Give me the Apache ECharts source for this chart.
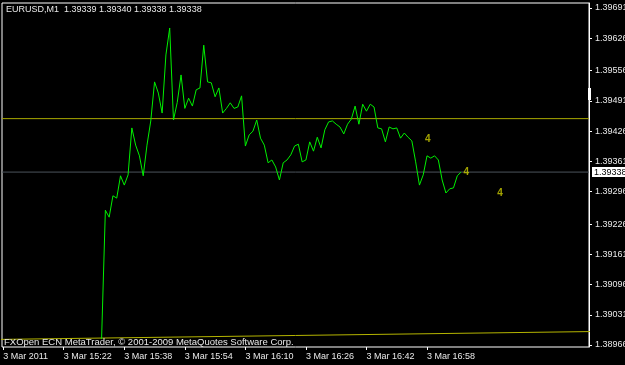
<!DOCTYPE html>
<html>
<head>
<meta charset="utf-8">
<script src="https://cdn.jsdelivr.net/npm/echarts@6/dist/echarts.min.js"></script>
<style>
html, body { margin: 0; background: #000; }
#chart { width: 625px; height: 365px; }
</style>
</head>
<body>
<div id="chart"></div>
<script>
// minutes are counted from 15:06, the first label on the time scale
const firstMinute = 26 // 15:32
const closes = [
    1.38979, 1.39256, 1.39241, 1.39287, 1.39282, 1.39330, 1.39310, 1.39332, 1.39433, 1.39396,
    1.39373, 1.39330, 1.39396, 1.39448, 1.39532, 1.39508, 1.39465, 1.39590, 1.39648, 1.39450,
    1.39488, 1.39547, 1.39475, 1.39497, 1.39480, 1.39515, 1.39519, 1.39611, 1.39532, 1.39530,
    1.39500, 1.39519, 1.39465, 1.39475, 1.39487, 1.39475, 1.39478, 1.39502, 1.39394, 1.39418,
    1.39426, 1.39450, 1.39411, 1.39396, 1.39358, 1.39364, 1.39349, 1.39321, 1.39358, 1.39364,
    1.39375, 1.39394, 1.39398, 1.39360, 1.39364, 1.39403, 1.39383, 1.39413, 1.39390, 1.39429,
    1.39446, 1.39448, 1.39441, 1.39435, 1.39420, 1.39441, 1.39452, 1.39480, 1.39441, 1.39484,
    1.39469, 1.39484, 1.39478, 1.39433, 1.39431, 1.39403, 1.39435, 1.39431, 1.39433, 1.39411,
    1.39422, 1.39413, 1.39405, 1.39360, 1.39310, 1.39332, 1.39373, 1.39368, 1.39373, 1.39364,
    1.39321, 1.39293, 1.39302, 1.39304, 1.39330, 1.39338,
]
const lastPrice = 1.39338
const levelPrice = 1.39453
const trendMinutes = [-1, 156]
const trendPrices = [1.38978, 1.38995]
const markMinutes = [112.2, 122.4, 131.3]
const markPrices = [1.39409, 1.39337, 1.39292]
const priceTicks = [1.38966, 1.39031, 1.39096, 1.39161, 1.39226, 1.39296, 1.39361, 1.39426, 1.39491, 1.39556, 1.39626, 1.39691]
const timeTicks = [0, 16, 32, 48, 64, 80, 96, 112]
const timeLabels = ["3 Mar 2011", "3 Mar 15:22", "3 Mar 15:38", "3 Mar 15:54", "3 Mar 16:10", "3 Mar 16:26", "3 Mar 16:42", "3 Mar 16:58"]

const font = "Liberation Sans"
const textColor = "#e8e8e8"
const xMin = -0.317
const xMax = 154.81

let chart = echarts.init(document.getElementById("chart"))
chart.setOption({
    animation: false,
    backgroundColor: "#000",
    textStyle: { fontFamily: font },
    title: {
        text: "EURUSD,M1  1.39339 1.39340 1.39338 1.39338",
        left: 6,
        top: 5,
        padding: 0,
        textStyle: { color: textColor, fontSize: 9, fontWeight: "normal", fontFamily: font },
    },
    graphic: [
        { type: "text", left: 4, top: 337, style: { text: "FXOpen ECN MetaTrader, © 2001-2009 MetaQuotes Software Corp.", fill: textColor, font: "9.5px " + font }, z: 10 },
        { type: "rect", shape: { x: 588, y: 88, width: 3, height: 12 }, style: { fill: "#fff" }, z: 10 },
    ],
    grid: {
        show: true,
        left: 2,
        top: 3,
        right: 36,
        bottom: 18,
        outerBoundsMode: "none",
        containLabel: false,
        borderColor: "#fff",
        borderWidth: 1,
    },
    xAxis: {
        type: "value",
        min: xMin,
        max: xMax,
        splitLine: { show: false },
        axisLine: { show: false, onZero: false },
        axisTick: { customValues: timeTicks, length: 3, lineStyle: { color: "#fff" } },
        axisLabel: {
            customValues: timeTicks,
            align: "left",
            margin: 5,
            color: textColor,
            fontSize: 9,
            formatter: v => timeLabels[timeTicks.indexOf(v)],
        },
    },
    yAxis: {
        type: "value",
        position: "right",
        min: 1.389617,
        max: 1.3970175,
        splitLine: { show: false },
        axisLine: { show: true, onZero: false, lineStyle: { color: "#fff" } },
        axisTick: { customValues: priceTicks, length: 3, lineStyle: { color: "#fff" } },
        axisLabel: {
            customValues: priceTicks,
            margin: 6,
            color: textColor,
            fontSize: 9,
            formatter: v => v.toFixed(5),
        },
    },
    series: [
        {
            // trend line near the bottom
            type: "line",
            data: trendMinutes.map((m, i) => [m, trendPrices[i]]),
            symbol: "none",
            lineStyle: { color: "#b4b400", width: 1 },
            silent: true,
        },
        {
            // horizontal level
            type: "line",
            data: [[xMin, levelPrice], [xMax, levelPrice]],
            symbol: "none",
            lineStyle: { color: "#a8a800", width: 1 },
            silent: true,
        },
        {
            // current price line with its tag on the scale
            type: "line",
            data: [[xMin, lastPrice], [xMax, lastPrice]],
            symbol: "none",
            lineStyle: { color: "#4c545c", width: 1 },
            silent: true,
            endLabel: {
                show: true,
                distance: 3,
                formatter: lastPrice.toFixed(5),
                backgroundColor: "#fff",
                color: "#000",
                fontSize: 9,
                fontFamily: font,
                padding: [1, 2, 0, 2],
            },
        },
        {
            type: "line",
            data: closes.map((p, i) => [firstMinute + i, p]),
            symbol: "none",
            lineStyle: { color: "#00f000", width: 1 },
            z: 3,
        },
        {
            type: "scatter",
            data: markMinutes.map((m, i) => [m, markPrices[i]]),
            symbolSize: 0,
            label: {
                show: true,
                position: "inside",
                formatter: "4",
                color: "#cccc00",
                fontSize: 10,
                fontWeight: "bold",
            },
            z: 4,
        },
    ],
})
</script>
</body>
</html>
